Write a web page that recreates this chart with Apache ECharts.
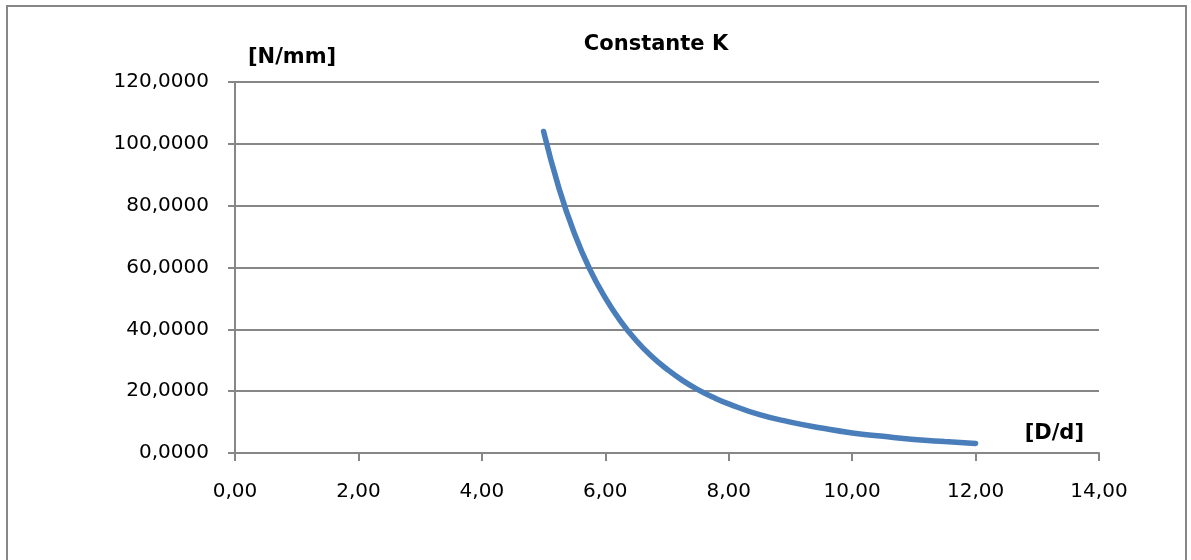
<!DOCTYPE html>
<html>
<head>
<meta charset="utf-8">
<title>Constante K</title>
<script src="https://cdn.jsdelivr.net/npm/echarts@6/dist/echarts.min.js"></script>
<style>
  html, body { margin: 0; padding: 0; background: #ffffff; }
  #chart { width: 1191px; height: 560px; }
</style>
</head>
<body>
<div id="chart"></div>
<script>
// Spring index D/d and the matching spring rate K [N/mm]
const dRatio = [5.00, 5.25, 5.50, 5.75, 6.00, 6.25, 6.50, 6.75, 7.00, 7.25, 7.50, 7.75, 8.00, 8.50, 9.00, 9.50, 10.00, 10.50, 11.00, 11.50, 12.00];
const kValues = [104.0, 85.6, 71.0, 59.4, 50.2, 42.6, 36.4, 31.3, 27.1, 23.5, 20.5, 18.0, 15.9, 12.4, 10.0, 8.1, 6.5, 5.4, 4.4, 3.7, 3.1];

const titleText = 'Constante K';
const yName = '[N/mm]';
const xName = '[D/d]';

const points = dRatio.map((x, i) => [x, kValues[i]]);

const grey = '#878787';
const font = 'DejaVu Sans';
const comma = (v, digits) => v.toFixed(digits).replace('.', ',');

const chart = echarts.init(document.getElementById('chart'), null, { renderer: 'canvas' });

chart.setOption({
  backgroundColor: '#ffffff',
  animation: false,
  graphic: [{
    type: 'rect',
    shape: { x: 7, y: 6, width: 1179, height: 600 },
    style: { fill: 'none', stroke: grey, lineWidth: 2 },
    silent: true
  }],
  title: {
    text: titleText,
    left: 651,
    top: 29,
    textAlign: 'center',
    textStyle: { fontFamily: font, fontWeight: 'bold', fontSize: 21, color: '#000000' }
  },
  grid: {
    left: 235,
    right: 92,
    top: 82,
    bottom: 107,
    containLabel: false,
    outerBoundsMode: 'none'
  },
  xAxis: {
    type: 'value',
    min: 0,
    max: 14,
    interval: 2,
    name: xName,
    nameLocation: 'end',
    nameGap: 0,
    nameTextStyle: {
      fontFamily: font, fontWeight: 'bold', fontSize: 21, color: '#000000',
      align: 'right', verticalAlign: 'bottom', padding: [0, 15, 9, 0]
    },
    axisLine: { show: true, lineStyle: { color: grey, width: 2 } },
    axisTick: { show: true, inside: false, length: 8, lineStyle: { color: grey, width: 2 } },
    axisLabel: {
      fontFamily: font, fontSize: 20, color: '#000000', margin: 29,
      formatter: v => comma(v, 2)
    },
    splitLine: { show: false }
  },
  yAxis: {
    type: 'value',
    min: 0,
    max: 120,
    interval: 20,
    name: yName,
    nameLocation: 'end',
    nameGap: 24,
    nameTextStyle: {
      fontFamily: font, fontWeight: 'bold', fontSize: 21, color: '#000000',
      align: 'left', verticalAlign: 'middle', padding: [0, 0, 0, 13]
    },
    axisLine: { show: true, lineStyle: { color: grey, width: 2 } },
    axisTick: { show: true, inside: false, length: 7, lineStyle: { color: grey, width: 2 } },
    axisLabel: {
      fontFamily: font, fontSize: 20, color: '#000000', margin: 26,
      formatter: v => comma(v, 4)
    },
    splitLine: { show: true, lineStyle: { color: grey, width: 2 } }
  },
  series: [{
    type: 'line',
    data: points,
    smooth: true,
    showSymbol: false,
    lineStyle: { color: '#4A7EBB', width: 5.5, cap: 'round' }
  }]
});
</script>
</body>
</html>
